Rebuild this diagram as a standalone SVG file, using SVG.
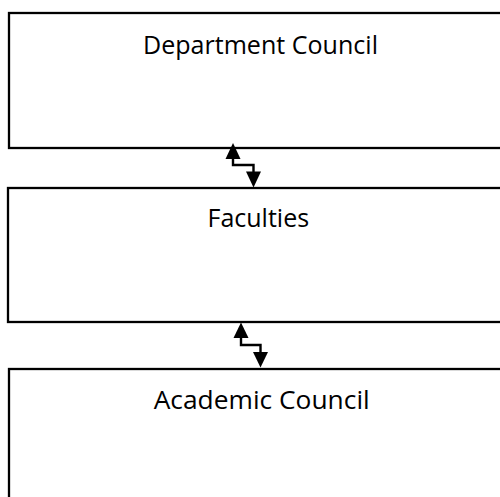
<svg xmlns="http://www.w3.org/2000/svg" width="500" height="497" viewBox="0 0 500 497">
<style>
.box{fill:#fff;stroke:#000;stroke-width:2.3}
.lbl{font-family:"Open Sans","Liberation Sans",sans-serif;font-size:25px;fill:#000;text-anchor:middle}
.conn{fill:none;stroke:#000;stroke-width:2.4}
.head{fill:#000;stroke:none}
</style>
<rect width="500" height="497" fill="#fff"/>
<g id="dept">
<rect class="box" x="9" y="13" width="503" height="135"/>
<text class="lbl" x="260.5" y="53.5" textLength="235" lengthAdjust="spacingAndGlyphs">Department Council</text>
</g>
<g id="faculties">
<rect class="box" x="8" y="188" width="504" height="134"/>
<text class="lbl" x="258.3" y="227">Faculties</text>
</g>
<g id="academic">
<rect class="box" x="9" y="369" width="503" height="140"/>
<text class="lbl" x="261.7" y="408.5" textLength="216" lengthAdjust="spacingAndGlyphs">Academic Council</text>
</g>
<g id="connectors">
<polyline class="conn" points="233,158 233,165 253.5,165 253.5,173"/>
<polygon class="head" points="233,143 225.5,159 240.5,159"/>
<polygon class="head" points="253.5,187.5 246,171.5 261,171.5"/>
<polyline class="conn" points="241,337 241,345 260.5,345 260.5,353"/>
<polygon class="head" points="241,322.5 233.5,338 248.5,338"/>
<polygon class="head" points="260.5,367.5 253,352 268,352"/>
</g>
</svg>
